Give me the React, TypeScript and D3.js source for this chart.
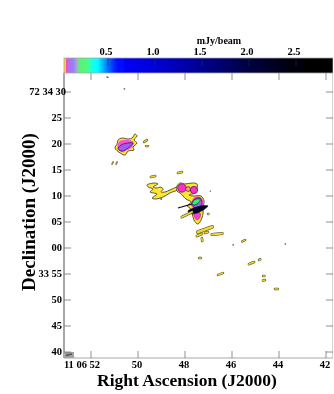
import React from "react";
import * as D3 from "d3";

type P = [number, number];

// Right ascension seconds and declination arcsec (relative to 72 34 00)
const raTicks = [52, 50, 48, 46, 44, 42];
const raLabels = ["11 06 52", "50", "48", "46", "44", "42"];
const decTicks = [30, 25, 20, 15, 10, 5, 0, -5, -10, -15, -20];
const decLabels = ["72 34 30", "25", "20", "15", "10", "05", "00", "33 55", "50", "45", "40"];
const barTicks = [0.5, 1.0, 1.5, 2.0, 2.5];
const barStops = [0.03, 0.045, 0.06, 0.08, 0.13, 0.17, 0.19, 0.3, 0.32, 0.39, 0.45, 0.5, 0.6, 1.0, 1.5, 2.0, 2.5, 2.89];
const barColors = ["#ffb020", "#ffe040", "#ff40c0", "#b070f0", "#9a80f8", "#a8a8d8", "#60f070", "#40ff90", "#20ffe0", "#00ffff", "#00b0ff", "#0070ff", "#0008ff", "#0000d8", "#000090", "#000040", "#000008", "#000000"];

const northYellow: P[] = [[50.85,20.77],[50.68,21.15],[50.42,20.96],[50.25,21.15],[50.13,21.92],[50.04,21.54],[50.17,20.77],[50.04,20.19],[50.21,19.42],[50.17,18.85],[50.42,18.65],[50.55,17.88],[50.76,18.27],[50.98,19.23],[50.89,20.0]];
const northMagenta: P[] = [[50.76,20.58],[50.42,20.77],[50.21,20.38],[50.25,19.42],[50.47,18.85],[50.68,18.46],[50.85,19.23],[50.85,20.0]];
const northViolet: P[] = [[50.85,19.04],[50.72,19.81],[50.42,20.19],[50.21,20.19],[50.42,19.23],[50.68,18.65]];
const mainYellow: P[] = [[48.34,11.92],[48.21,12.5],[48.0,12.31],[47.7,12.5],[47.49,12.31],[47.49,11.34],[47.57,10.58],[47.83,10.19],[47.66,10.0],[47.32,10.0],[47.19,9.04],[47.23,7.88],[47.23,6.73],[47.28,5.77],[47.45,4.6],[47.62,5.38],[47.7,6.73],[47.79,7.69],[47.91,8.08],[47.74,8.85],[47.96,9.42],[48.08,10.0],[48.21,10.58],[48.34,10.96]];
const westYellow: P[] = [[49.62,12.12],[49.27,12.5],[49.15,12.31],[49.36,11.73],[49.19,11.54],[49.06,11.73],[48.93,11.34],[49.02,10.77],[48.85,10.77],[48.64,11.15],[48.3,11.73],[48.25,11.34],[48.64,10.58],[48.93,9.81],[49.27,9.42],[49.4,9.61],[49.19,10.38],[49.49,10.77],[49.36,11.34],[49.57,11.73]];
const centreMagenta: P[] = [[47.7,9.04],[47.57,9.81],[47.36,9.81],[47.23,8.85],[47.28,7.69],[47.57,7.5],[47.74,8.27]];
const centreViolet: P[] = [[47.7,8.65],[47.57,9.42],[47.36,9.61],[47.28,8.85],[47.36,7.88],[47.57,7.69]];
const centreGreen: P[] = [[47.7,8.65],[47.57,9.33],[47.36,9.42],[47.36,9.04],[47.49,8.46],[47.66,8.27]];
const southMagenta: P[] = [[47.62,6.54],[47.36,6.73],[47.36,5.96],[47.49,5.38],[47.57,5.77]];
const coreBlack: P[] = [[47.87,7.11],[47.57,7.8],[47.19,8.17],[47.02,8.07],[47.19,7.41],[47.49,6.73],[47.79,6.63]];

// ra, dec, radius arcsec
const spotRa = [48.13, 47.87, 47.62];
const spotDec = [11.54, 11.34, 11.15];
const spotRadius = [0.8, 0.45, 0.7];
const spotFill = ["#ff30c8", "#ffb050", "#ff30c8"];

// ra1, dec1, ra2, dec2, width arcsec
const strips: [number, number, number, number, number][] = [
  [49.74,20.38,49.62,20.77,0.25],[49.66,19.61,49.57,19.61,0.25],[51.1,16.15,51.06,16.54,0.12],[50.93,16.15,50.89,16.54,0.12],
  [49.45,13.65,49.27,13.85,0.3],[48.3,14.42,48.13,14.6,0.3],[49.02,9.42,49.0,9.42,0.1],[46.93,10.96,46.92,10.96,0.05],[47.02,6.54,47.0,6.54,0.25],
  [48.13,5.96,47.7,6.92,0.35],
  [47.45,3.08,46.85,4.04,0.55],[47.49,2.31,47.28,2.69,0.35],[47.15,2.88,47.02,3.08,0.3],[46.85,2.6,46.42,2.8,0.4],[47.28,1.92,47.27,1.35,0.3],
  [47.4,-1.92,47.32,-1.92,0.25],[46.6,-5.2,46.38,-4.8,0.25],[45.96,0.58,45.94,0.58,0.05],[45.57,1.25,45.44,1.54,0.25],[45.28,-3.1,45.06,-2.7,0.3],
  [44.85,-2.31,44.8,-2.2,0.3],[44.68,-5.38,44.62,-5.38,0.25],[44.68,-6.25,44.6,-6.15,0.3],[44.17,-7.88,44.05,-7.88,0.3],[43.74,0.77,43.73,0.77,0.05],
  [51.32,32.88,51.28,32.8,0.05],[50.59,30.58,50.57,30.58,0.05],
];
const jet: [number, number, number, number] = [48.3, 7.7, 47.7, 8.46];

const W = 334, H = 394;
const L = 64, R = 333, T = 73, B = 358;
const x = D3.scaleLinear().domain([52, 42]).range([91, 326]);
const y = D3.scaleLinear().domain([30, -20]).range([92, 352]);
const bar = D3.scaleLinear().domain([0.5, 2.5]).range([108, 296]);
const barColor = D3.scaleLinear<string>().domain(barStops).range(barColors);

const GREY = "#a8a8a8";
const OUT = "#4a4628";
const FONT = "'Liberation Serif', 'Times New Roman', serif";
const line = D3.line<P>().x(d => x(d[0])).y(d => y(d[1])).curve(D3.curveCatmullRomClosed.alpha(0.5));
const poly = (pts: P[], fill: string, stroke = OUT, sw = 0.9) => <path d={line(pts) as string} fill={fill} stroke={stroke} strokeWidth={sw} strokeLinejoin="round" />;

export default function App() {
  const ppa = y(0) - y(1);
  const cols = D3.range(L, R, 1);
  return (
    <svg width={W} height={H} viewBox={`0 0 ${W} ${H}`} style={{ position: "absolute", left: 0, top: 0, background: "#fff" }} fontFamily={FONT} fontWeight="bold">
      <defs><filter id="soft" x="0" y="0" width="1" height="1"><feGaussianBlur stdDeviation="0.3" /></filter></defs>
      <g filter="url(#soft)">
        <g shapeRendering="crispEdges">
          {cols.map(c => <rect key={c} x={c} y={58} width={1} height={15} fill={barColor(bar.invert(c + 0.5))} />)}
        </g>
        <rect x={L} y={58} width={R - L} height={15} fill="none" stroke={GREY} strokeWidth={0.8} />
        {barTicks.map(t => <g key={t}>
          <line x1={bar(t)} x2={bar(t)} y1={58} y2={66} stroke="#333" strokeWidth={0.6} />
          <text x={bar(t) - 2} y={55} fontSize={10.5} textAnchor="middle" fill="#000">{t.toFixed(1)}</text>
        </g>)}
        <text x={219} y={44} fontSize={10} textAnchor="middle" fill="#000">mJy/beam</text>

        {poly(northYellow, "#ffe62e")}
        {poly(northMagenta, "#ff50d8", "#ff50d8", 0.4)}
        {poly(northViolet, "#9a60f0", "#601890", 1)}
        {poly(westYellow, "#ffe62e")}
        {poly(mainYellow, "#ffe62e")}
        {poly(southMagenta, "#ff40d0", "#a02090", 0.6)}
        {poly(centreMagenta, "#ff40d0", "#ff40d0", 0.4)}
        {poly(centreViolet, "#a060f0", "#501080", 0.8)}
        {poly(centreGreen, "#30f070", "#104030", 0.8)}
        <line x1={x(jet[0])} y1={y(jet[1])} x2={x(jet[2])} y2={y(jet[3])} stroke="#000020" strokeWidth={1.2} />
        {poly(coreBlack, "#000028", "#000", 0.5)}
        {spotRa.map((r, i) => <circle key={i} cx={x(r)} cy={y(spotDec[i])} r={spotRadius[i] * ppa} fill={spotFill[i]} stroke="#701878" strokeWidth={0.9} />)}
        {strips.map((s, i) => <g key={i} strokeLinecap="round">
          <line x1={x(s[0])} y1={y(s[1])} x2={x(s[2])} y2={y(s[3])} stroke={OUT} strokeWidth={s[4] * ppa + 1} />
          {s[4] > 0.1 && <line x1={x(s[0])} y1={y(s[1])} x2={x(s[2])} y2={y(s[3])} stroke="#f0d830" strokeWidth={s[4] * ppa} />}
        </g>)}

        <rect x={L} y={352} width={10} height={6} fill="#a0a0a0" />
        <line x1={L + 2} y1={356} x2={L + 8} y2={354} stroke="#333" strokeWidth={0.7} />
        <line x1={L + 2} y1={354.5} x2={L + 8} y2={354} stroke="#333" strokeWidth={0.5} />

        <line x1={L} x2={L} y1={73} y2={B} stroke={GREY} strokeWidth={2} />
        <line x1={L} x2={R} y1={B} y2={B} stroke={GREY} strokeWidth={1} />
        <line x1={R} x2={R} y1={T} y2={B} stroke={GREY} strokeWidth={1} />
        {raTicks.map((t, i) => <g key={t}>
          <line x1={x(t)} x2={x(t)} y1={T} y2={T + 7} stroke="#666" strokeWidth={0.7} />
          <line x1={x(t)} x2={x(t)} y1={B} y2={B - 7} stroke="#666" strokeWidth={0.7} />
          <text x={i === 0 ? 82 : x(t) - 1} y={368} fontSize={10.5} textAnchor="middle" fill="#000">{raLabels[i]}</text>
        </g>)}
        {decTicks.map((t, i) => <g key={t}>
          <line x1={L} x2={L + 7} y1={y(t)} y2={y(t)} stroke="#666" strokeWidth={0.7} />
          <line x1={R} x2={R - 7} y1={y(t)} y2={y(t)} stroke="#666" strokeWidth={0.7} />
          <text x={i === 0 ? 66 : 62} y={y(t) + 3} fontSize={10.5} textAnchor="end" fill="#000">{decLabels[i]}</text>
        </g>)}
        <text x={187} y={386} fontSize={17.5} textAnchor="middle" fill="#000">Right Ascension (J2000)</text>
        <text transform="translate(35,212) rotate(-90)" fontSize={19} textAnchor="middle" fill="#000">Declination (J2000)</text>
      </g>
    </svg>
  );
}
